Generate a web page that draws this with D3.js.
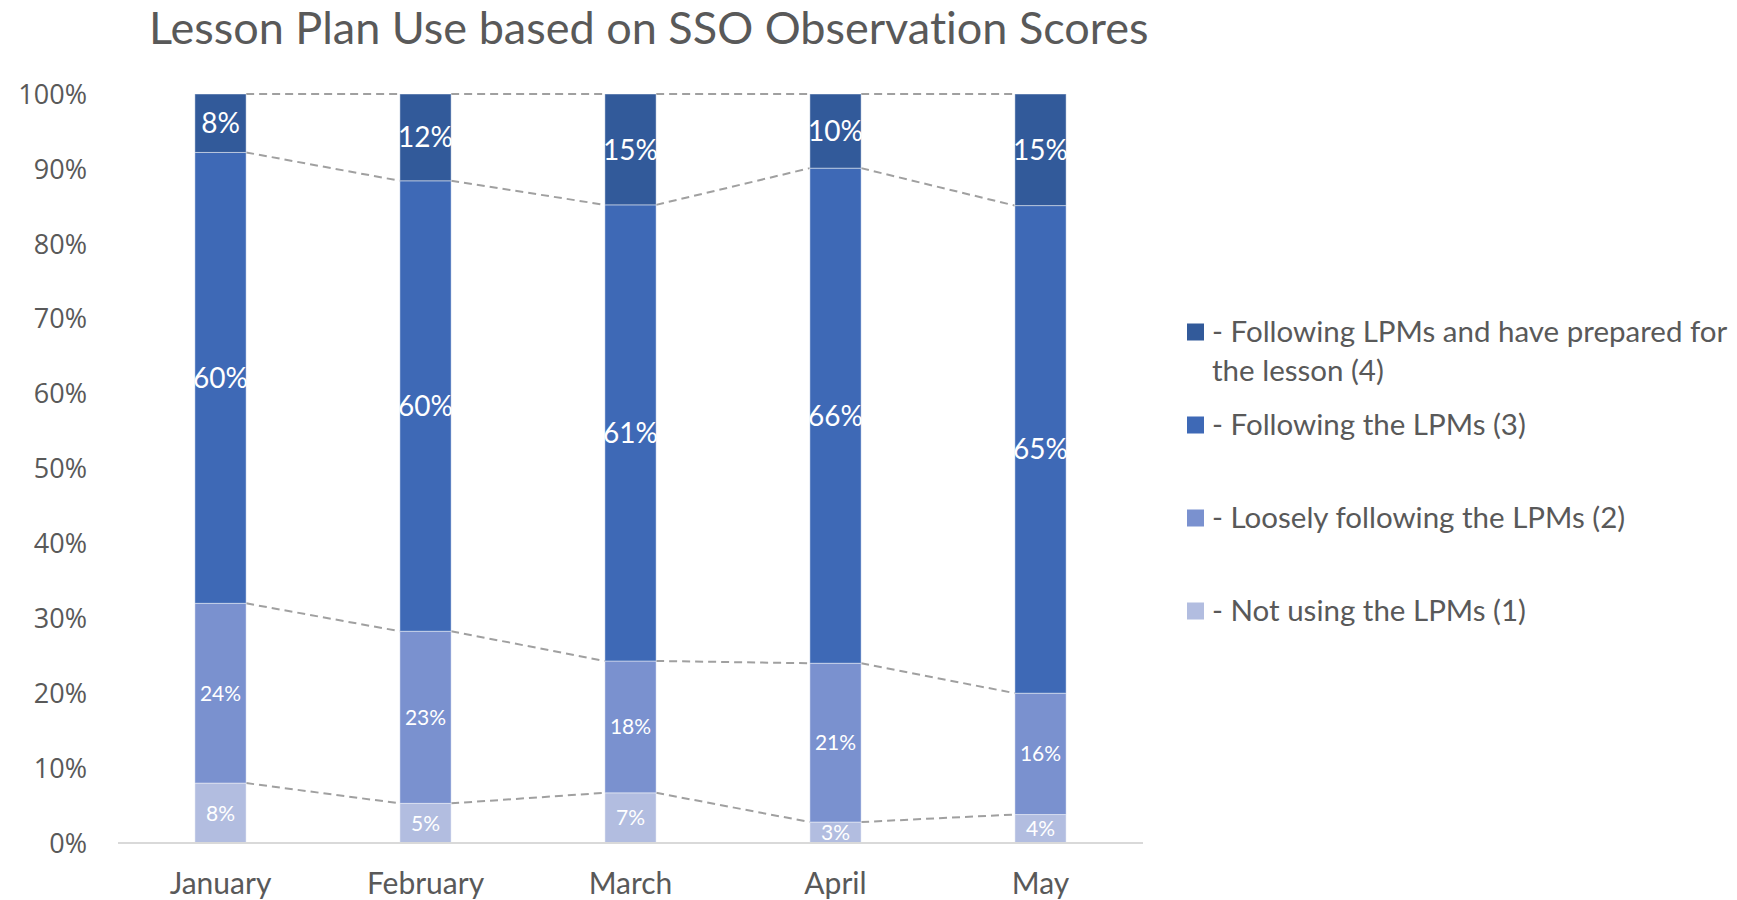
<!DOCTYPE html>
<html>
<head>
<meta charset="utf-8">
<script src="https://cdn.jsdelivr.net/npm/d3@7"></script>
<style>
  body { margin: 0; background: #fff; }
  svg { display: block; font-variant-ligatures: none; }
</style>
</head>
<body>
<div id="chart"></div>
<script>
const months = ["January", "February", "March", "April", "May"];
const notUsing = [8.0, 5.3, 6.7, 2.8, 3.8];
const loosely = [24.0, 23.0, 17.6, 21.2, 16.2];
const following = [60.2, 60.2, 60.9, 66.1, 65.1];
const prepared = [7.8, 11.6, 14.8, 9.9, 14.9];
const seriesNames = [
  "- Not using the LPMs (1)",
  "- Loosely following the LPMs (2)",
  "- Following the LPMs (3)",
  "- Following LPMs and have prepared for the lesson (4)",
];
const yTicks = [0, 0.1, 0.2, 0.3, 0.4, 0.5, 0.6, 0.7, 0.8, 0.9, 1];

const colors = ["#b2bde0", "#7a91cf", "#3e69b6", "#325a9a"];
const textGrey = "#595959";
const calibri = "Lato, 'Open Sans', sans-serif";
const segoe = "'Open Sans', 'Noto Sans', sans-serif";

const width = 1737, height = 900;
const margin = { top: 94, left: 118, bottom: 57 };
const plotRight = 1143;

const svg = d3.select("#chart").append("svg")
  .attr("width", width).attr("height", height);

const rows = months.map((m, i) => ({
  month: m, s0: notUsing[i], s1: loosely[i], s2: following[i], s3: prepared[i],
}));
const keys = ["s0", "s1", "s2", "s3"];
const stacked = d3.stack().keys(keys).offset(d3.stackOffsetExpand)(rows);

const x = d3.scaleBand().domain(months).range([margin.left, plotRight])
  .paddingInner(0.75).paddingOuter(0.375);
const y = d3.scaleLinear().domain([0, 1]).range([height - margin.bottom, margin.top]);

// Title
svg.append("text")
  .attr("x", 149).attr("y", 44)
  .style("font-family", calibri).style("font-size", "45px")
  .attr("fill", textGrey)
  .text("Lesson Plan Use based on SSO Observation Scores");

// Y tick labels
svg.append("g").selectAll("text").data(yTicks).join("text")
  .attr("x", 87).attr("y", (d) => y(d))
  .attr("dy", "0.36em")
  .attr("text-anchor", "end")
  .style("font-family", segoe).style("font-size", "27px")
  .attr("fill", textGrey)
  .text(d3.format(".0%"));

// Series lines between bars
stacked.forEach((s) => {
  for (let i = 0; i < s.length - 1; i++) {
    svg.append("line")
      .attr("x1", x(months[i]) + x.bandwidth())
      .attr("y1", y(s[i][1]))
      .attr("x2", x(months[i + 1]))
      .attr("y2", y(s[i + 1][1]))
      .attr("stroke", "#a0a0a0")
      .attr("stroke-width", 2)
      .attr("stroke-dasharray", "8,5");
  }
});

// Bars
const layers = svg.append("g").selectAll("g").data(stacked).join("g")
  .attr("fill", (d, i) => colors[i]);
layers.selectAll("rect").data((d) => d).join("rect")
  .attr("x", (d) => x(d.data.month))
  .attr("width", x.bandwidth())
  .attr("y", (d) => y(d[1]))
  .attr("height", (d) => y(d[0]) - y(d[1]))
  .attr("stroke", "rgba(255,255,255,0.45)")
  .attr("stroke-width", 1);

// X axis line
svg.append("line")
  .attr("x1", margin.left).attr("x2", plotRight)
  .attr("y1", y(0)).attr("y2", y(0))
  .attr("stroke", "#d9d9d9").attr("stroke-width", 2);

// Data labels
const fmt = d3.format(".0%");
stacked.forEach((s, si) => {
  svg.append("g").selectAll("text").data(s).join("text")
    .attr("x", (d) => x(d.data.month) + x.bandwidth() / 2)
    .attr("y", (d) => y((d[0] + d[1]) / 2))
    .attr("dy", "0.36em")
    .attr("text-anchor", "middle")
    .style("font-family", calibri)
    .style("font-size", si >= 2 ? "28px" : "21px")
    .attr("fill", "#fff")
    .text((d) => fmt(d[1] - d[0]));
});

// Month labels
svg.append("g").selectAll("text").data(months).join("text")
  .attr("x", (d) => x(d) + x.bandwidth() / 2)
  .attr("y", 894)
  .attr("text-anchor", "middle")
  .style("font-family", calibri).style("font-size", "30px")
  .attr("fill", textGrey)
  .text((d) => d);

// Legend (top entry is series 4)
const legendItems = [
  { c: colors[3], lines: ["- Following LPMs and have prepared for", "the lesson (4)"], cy: 332 },
  { c: colors[2], lines: [seriesNames[2]], cy: 425 },
  { c: colors[1], lines: [seriesNames[1]], cy: 518 },
  { c: colors[0], lines: [seriesNames[0]], cy: 611 },
];
const leg = svg.append("g");
legendItems.forEach((it) => {
  leg.append("rect")
    .attr("x", 1187).attr("y", it.cy - 8.5)
    .attr("width", 17).attr("height", 17)
    .attr("fill", it.c);
  const t = leg.append("text")
    .attr("x", 1212).attr("y", it.cy + 10)
    .style("font-family", calibri).style("font-size", "29.5px")
    .attr("fill", textGrey);
  it.lines.forEach((l, k) => {
    t.append("tspan").attr("x", 1212).attr("dy", k === 0 ? 0 : 39).text(l);
  });
});
</script>
</body>
</html>
